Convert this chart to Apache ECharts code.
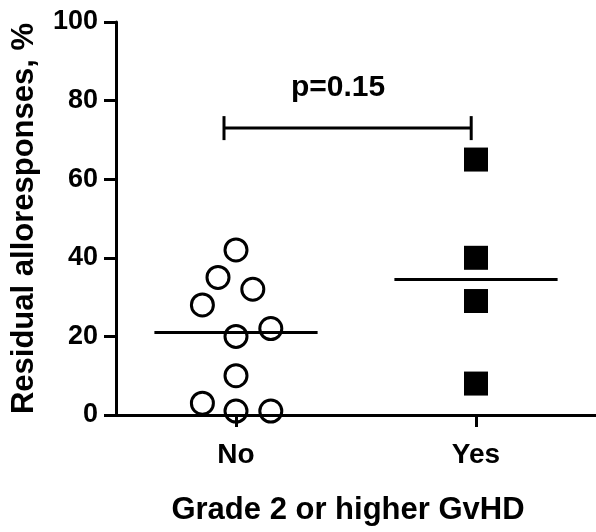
<!DOCTYPE html>
<html>
<head>
<meta charset="utf-8">
<script src="https://cdn.jsdelivr.net/npm/echarts@6/dist/echarts.min.js"></script>
<style>
  html, body { margin: 0; padding: 0; background: #fff; }
  #chart { width: 596px; height: 532px; }
</style>
</head>
<body>
<div id="chart"></div>
<script>
// values
var groups = ['No', 'Yes'];
var noValues = [42, 35, 32, 28, 22, 20, 10, 3, 1, 1];
var noJitter = [0, -0.075, 0.07, -0.14, 0.145, 0, 0, -0.14, 0, 0.145];
var yesValues = [65, 40, 29, 8];
var groupMeans = [21, 34.5];
var yTicks = [0, 20, 40, 60, 80, 100];
var pLabel = 'p=0.15';
var bracketY = 73;

var font = 'Liberation Sans, Arial, sans-serif';

var noData = noValues.map(function (v, i) { return [0 + noJitter[i], v]; });
var yesData = yesValues.map(function (v) { return [1, v]; });
var meanData = groupMeans.map(function (m, i) { return [i, m]; });

var chart = echarts.init(document.getElementById('chart'));

chart.setOption({
  animation: false,
  grid: { left: 116, right: 0, top: 22, bottom: 117 },
  xAxis: {
    type: 'value',
    min: -0.5,
    max: 1.5,
    name: 'Grade 2 or higher GvHD',
    nameLocation: 'middle',
    nameGap: 80,
    nameTextStyle: { fontFamily: font, fontWeight: 'bold', fontSize: 31, color: '#000', padding: [0, 16, 0, 0] },
    axisLine: { onZero: false, lineStyle: { color: '#000', width: 3 } },
    axisTick: { customValues: [0, 1], length: 12, lineStyle: { color: '#000', width: 3 } },
    axisLabel: {
      customValues: [0, 1],
      margin: 26,
      fontFamily: font, fontWeight: 'bold', fontSize: 28, color: '#000',
      formatter: function (v) { return groups[Math.round(v)]; }
    },
    splitLine: { show: false }
  },
  yAxis: {
    type: 'value',
    min: 0,
    max: 100,
    interval: 20,
    name: 'Residual alloresponses, %',
    nameLocation: 'middle',
    nameGap: 76,
    nameTextStyle: { fontFamily: font, fontWeight: 'bold', fontSize: 31, color: '#000' },
    axisLine: { show: true, onZero: false, lineStyle: { color: '#000', width: 3 } },
    axisTick: { show: true, length: 12, lineStyle: { color: '#000', width: 3 } },
    axisLabel: {
      margin: 18,
      fontFamily: font, fontWeight: 'bold', fontSize: 27, color: '#000',
      formatter: function (v) { return yTicks.indexOf(v) >= 0 ? String(v) : ''; }
    },
    splitLine: { show: false }
  },
  series: [
    {
      type: 'scatter',
      data: noData,
      symbol: 'circle',
      symbolSize: 22,
      itemStyle: { color: 'transparent', borderColor: '#000', borderWidth: 3, opacity: 1 },
      z: 3
    },
    {
      type: 'scatter',
      data: yesData,
      symbol: 'rect',
      symbolSize: 24,
      itemStyle: { color: '#000', opacity: 1 },
      z: 3
    },
    {
      type: 'custom',
      data: meanData,
      renderItem: function (params, api) {
        var x = api.value(0), y = api.value(1);
        var a = api.coord([x - 0.34, y]);
        var b = api.coord([x + 0.34, y]);
        return {
          type: 'line',
          shape: { x1: a[0], y1: a[1], x2: b[0], y2: b[1] },
          style: { stroke: '#000', lineWidth: 3 }
        };
      },
      z: 2
    },
    {
      type: 'custom',
      data: [[-0.05, 0.98, bracketY]],
      renderItem: function (params, api) {
        var a = api.coord([api.value(0), api.value(2)]);
        var b = api.coord([api.value(1), api.value(2)]);
        var t = api.coord([0.425, api.value(2)]);
        var cap = 12;
        var st = { stroke: '#000', lineWidth: 3 };
        return {
          type: 'group',
          children: [
            { type: 'line', shape: { x1: a[0], y1: a[1], x2: b[0], y2: b[1] }, style: st },
            { type: 'line', shape: { x1: a[0], y1: a[1] - cap, x2: a[0], y2: a[1] + cap }, style: st },
            { type: 'line', shape: { x1: b[0], y1: b[1] - cap, x2: b[0], y2: b[1] + cap }, style: st },
            {
              type: 'text',
              x: t[0], y: t[1] - 40,
              style: {
                text: pLabel, fill: '#000',
                font: 'bold 30px ' + font,
                align: 'center', verticalAlign: 'middle'
              }
            }
          ]
        };
      },
      z: 2
    }
  ]
});
</script>
</body>
</html>
